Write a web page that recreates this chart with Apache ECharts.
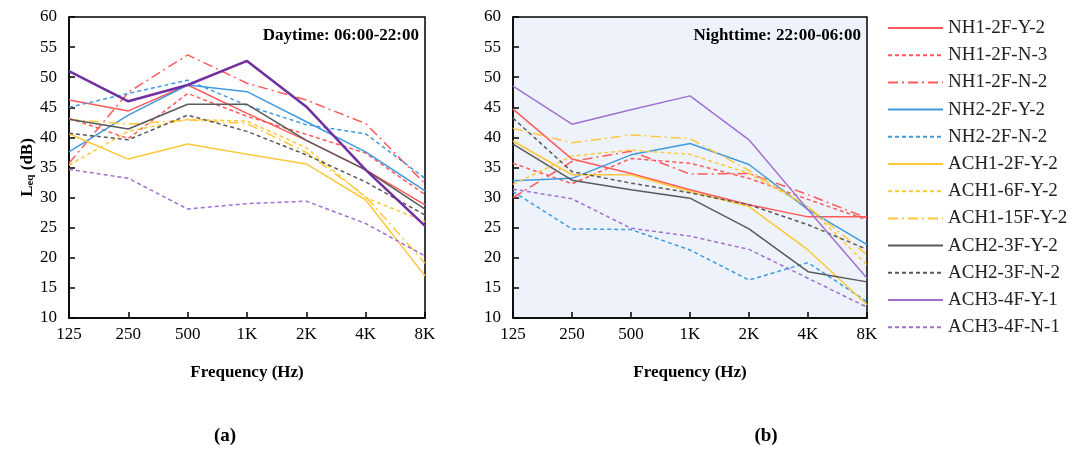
<!DOCTYPE html>
<html><head><meta charset="utf-8">
<script src="https://cdn.jsdelivr.net/npm/echarts@6/dist/echarts.min.js"></script>
<style>html,body{margin:0;padding:0;background:#fff}#c{width:1078px;height:454px}</style>
</head><body><div id="c"></div>
<script>
const categories = ['125','250','500','1K','2K','4K','8K'];
const seriesNames = ['NH1-2F-Y-2','NH1-2F-N-3','NH1-2F-N-2','NH2-2F-Y-2','NH2-2F-N-2','ACH1-2F-Y-2','ACH1-6F-Y-2','ACH1-15F-Y-2','ACH2-3F-Y-2','ACH2-3F-N-2','ACH3-4F-Y-1','ACH3-4F-N-1'];
const yTicks = [10,15,20,25,30,35,40,45,50,55,60];

// Daytime values (dB)
const dayNH1_Y2   = [46.2, 44.4, 48.7, 44.0, 39.5, 34.6, 28.8];
const dayNH1_N3   = [43.2, 39.8, 47.3, 43.5, 40.5, 37.4, 30.5];
const dayNH1_N2   = [35.7, 47.5, 53.7, 49.0, 46.2, 42.3, 32.3];
const dayNH2_Y2   = [37.6, 43.7, 48.7, 47.6, 42.6, 37.6, 31.1];
const dayNH2_N2   = [45.0, 47.3, 49.5, 45.3, 42.1, 40.6, 33.2];
const dayACH1_2F  = [40.6, 36.4, 38.9, 37.2, 35.6, 29.6, 17.0];
const dayACH1_6F  = [35.4, 41.0, 43.0, 42.7, 38.3, 30.0, 26.0];
const dayACH1_15F = [43.0, 42.2, 42.9, 42.3, 37.5, 30.2, 19.1];
const dayACH2_Y2  = [43.0, 41.4, 45.5, 45.5, 39.5, 34.6, 28.1];
const dayACH2_N2  = [40.7, 39.6, 43.7, 41.0, 37.1, 32.6, 27.1];
const dayACH3_Y1  = [51.0, 46.0, 48.7, 52.7, 45.1, 34.6, 25.3];
const dayACH3_N1  = [34.7, 33.2, 28.1, 29.0, 29.4, 25.7, 20.3];

// Nighttime values (dB)
const nightNH1_Y2   = [44.7, 36.4, 34.0, 31.3, 28.8, 26.8, 26.8];
const nightNH1_N3   = [35.7, 32.3, 36.5, 35.7, 33.2, 29.7, 26.3];
const nightNH1_N2   = [30.0, 36.0, 37.7, 33.9, 34.0, 30.5, 26.6];
const nightNH2_Y2   = [32.8, 33.2, 37.1, 39.0, 35.5, 28.0, 22.2];
const nightNH2_N2   = [31.0, 24.8, 24.7, 21.3, 16.3, 19.2, 12.7];
const nightACH1_2F  = [39.4, 33.8, 33.8, 31.0, 28.5, 21.3, 12.2];
const nightACH1_6F  = [32.2, 36.9, 37.9, 37.2, 34.0, 28.5, 18.8];
const nightACH1_15F = [41.5, 39.1, 40.4, 39.8, 34.5, 28.5, 20.5];
const nightACH2_Y2  = [38.9, 32.9, 31.3, 29.9, 24.8, 17.7, 16.0];
const nightACH2_N2  = [43.2, 34.3, 32.4, 30.8, 28.8, 25.5, 21.4];
const nightACH3_Y1  = [48.5, 42.2, 44.6, 46.9, 39.6, 28.0, 16.6];
const nightACH3_N1  = [31.4, 29.8, 24.9, 23.6, 21.4, 16.6, 11.8];

const dayData = [dayNH1_Y2, dayNH1_N3, dayNH1_N2, dayNH2_Y2, dayNH2_N2, dayACH1_2F, dayACH1_6F, dayACH1_15F, dayACH2_Y2, dayACH2_N2, dayACH3_Y1, dayACH3_N1];
const nightData = [nightNH1_Y2, nightNH1_N3, nightNH1_N2, nightNH2_Y2, nightNH2_N2, nightACH1_2F, nightACH1_6F, nightACH1_15F, nightACH2_Y2, nightACH2_N2, nightACH3_Y1, nightACH3_N1];

const RED = '#ff5a5a', BLUE = '#3f9be0', YEL = '#ffc83a', GRAY = '#595959', PUR = '#a070d0', PURD = '#7030a0';
const DASH = [4, 3], DASHDOT = [10, 4, 2, 4];
const styles = [
  {c: RED, t: 'solid'}, {c: RED, t: DASH}, {c: RED, t: DASHDOT},
  {c: BLUE, t: 'solid'}, {c: BLUE, t: DASH},
  {c: YEL, t: 'solid'}, {c: YEL, t: DASH}, {c: YEL, t: DASHDOT},
  {c: GRAY, t: 'solid'}, {c: GRAY, t: DASH},
  {c: PUR, t: 'solid'}, {c: PUR, t: DASH}
];

const FONT = '"Liberation Serif", "Times New Roman", serif';
const series = [];
seriesNames.forEach((n, i) => {
  series.push({name: n, type: 'line', xAxisIndex: 1, yAxisIndex: 1, data: nightData[i],
    symbol: 'none', silent: true, animation: false,
    lineStyle: {color: styles[i].c, type: styles[i].t, width: 1.5}, itemStyle: {color: styles[i].c}});
});
seriesNames.forEach((n, i) => {
  const purpleDay = (i === 10);
  series.push({name: n, type: 'line', xAxisIndex: 0, yAxisIndex: 0, data: dayData[i],
    symbol: 'none', silent: true, animation: false,
    lineStyle: {color: purpleDay ? PURD : styles[i].c, type: styles[i].t, width: purpleDay ? 2.5 : 1.5},
    itemStyle: {color: purpleDay ? PURD : styles[i].c}});
});

function xAx(g) {
  return {type: 'category', gridIndex: g, data: categories, boundaryGap: false,
    axisLine: {lineStyle: {color: '#000', width: 1.5}},
    axisTick: {inside: true, length: 6, lineStyle: {color: '#000', width: 1.5}},
    axisLabel: {color: '#000', fontFamily: FONT, fontSize: 17, margin: 8},
    name: 'Frequency (Hz)', nameLocation: 'middle', nameGap: 46,
    nameTextStyle: {color: '#000', fontFamily: FONT, fontSize: 17, fontWeight: 'bold'}};
}
function yAx(g, withName) {
  const o = {type: 'value', gridIndex: g, min: 10, max: 60, interval: 5,
    axisLine: {show: true, lineStyle: {color: '#000', width: 1.5}},
    axisTick: {show: true, inside: true, length: 6, lineStyle: {color: '#000', width: 1.5}},
    axisLabel: {color: '#000', fontFamily: FONT, fontSize: 17, margin: 12,
      formatter: v => yTicks.includes(v) ? String(v) : ''},
    splitLine: {show: false}};
  if (withName) {
    o.name = '{a|L}{b|eq}{a| (dB)}';
    o.nameLocation = 'middle';
    o.nameGap = 31;
    o.nameTextStyle = {rich: {
      a: {fontFamily: FONT, fontSize: 17, fontWeight: 'bold', color: '#000'},
      b: {fontFamily: FONT, fontSize: 11, fontWeight: 'bold', color: '#000', verticalAlign: 'bottom', padding: [6, 0, 0, 0]}}};
  }
  return o;
}

const chart = echarts.init(document.getElementById('c'), null, {renderer: 'canvas'});
chart.setOption({
  animation: false,
  grid: [
    {left: 69, right: 653, top: 17, bottom: 136, show: true, borderColor: '#000', borderWidth: 1.5, backgroundColor: '#fff'},
    {left: 513, right: 211, top: 17, bottom: 136, show: true, borderColor: '#000', borderWidth: 1.5, backgroundColor: '#eef3fb'}
  ],
  xAxis: [xAx(0), xAx(1)],
  yAxis: [yAx(0, true), yAx(1, false)],
  title: [
    {text: 'Daytime: 06:00-22:00', right: 1078 - 419, top: 27, textStyle: {fontFamily: FONT, fontSize: 17, fontWeight: 'bold', color: '#000'}, padding: 0},
    {text: 'Nighttime: 22:00-06:00', right: 1078 - 861, top: 27, textStyle: {fontFamily: FONT, fontSize: 17, fontWeight: 'bold', color: '#000'}, padding: 0},
    {text: '(a)', left: 225, top: 427, textAlign: 'center', textStyle: {fontFamily: FONT, fontSize: 19, fontWeight: 'bold', color: '#000'}, padding: 0},
    {text: '(b)', left: 766, top: 427, textAlign: 'center', textStyle: {fontFamily: FONT, fontSize: 19, fontWeight: 'bold', color: '#000'}, padding: 0}
  ],
  legend: {
    orient: 'vertical', left: 882, top: 13, itemWidth: 55, itemHeight: 10, itemGap: 7.2,
    data: seriesNames, selectedMode: false,
    itemStyle: {opacity: 0},
    textStyle: {fontFamily: FONT, fontSize: 19, color: '#222', lineHeight: 20}
  },
  series: series
});
</script></body></html>
